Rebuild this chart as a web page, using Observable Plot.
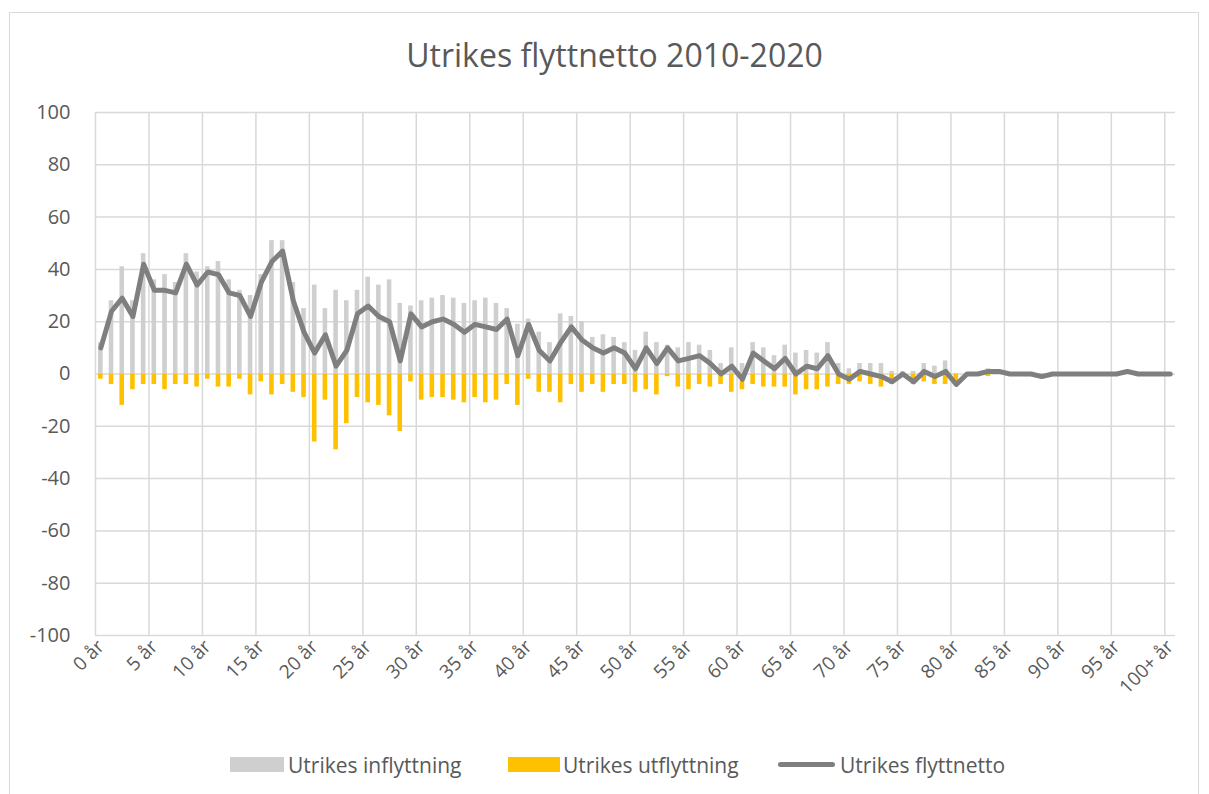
<!DOCTYPE html>
<html>
<head>
<meta charset="utf-8">
<script src="https://cdn.jsdelivr.net/npm/d3@7"></script>
<script src="https://cdn.jsdelivr.net/npm/@observablehq/plot@0.6"></script>
<style>
  html, body { margin: 0; padding: 0; background: #fff; overflow: hidden; }
  #wrap { position: relative; width: 1209px; height: 794px; font-family: "Open Sans", Lato, sans-serif; }
  #frame { position: absolute; left: 9px; top: 12px; width: 1190px; height: 820px; border: 1px solid #d9d9d9; box-sizing: border-box; }
  #title { position: relative; height: 90px; box-sizing: border-box; padding-top: 36px; text-align: center; font-size: 32px; color: #595959; line-height: 38px; padding-left: 20px; }
  #chart { position: relative; height: 645px; }
  #legend { position: relative; height: 59px; color: #595959; font-size: 21px; }
  .sw { position: absolute; }
  .lt { position: absolute; top: 17px; line-height: 26px; white-space: nowrap; }
</style>
</head>
<body>
<div id="wrap">
  <div id="frame"></div>
  <div id="title">Utrikes flyttnetto 2010-2020</div>
  <div id="chart"></div>
  <div id="legend">
    <div class="sw" style="left:230px; top:22px; width:54px; height:15px; background:#cfcfcf;"></div>
    <div class="lt" style="left:288px;">Utrikes inflyttning</div>
    <div class="sw" style="left:508px; top:22px; width:52px; height:15px; background:#ffc000;"></div>
    <div class="lt" style="left:563px;">Utrikes utflyttning</div>
    <div class="sw" style="left:778px; top:27px; width:57px; height:5px; border-radius:3px; background:#7f7f7f;"></div>
    <div class="lt" style="left:840px;">Utrikes flyttnetto</div>
  </div>
</div>
<script>
// Categories: age 0..100 (100 = "100+ år")
const ages = d3.range(0, 101);

const tickAges = [0, 5, 10, 15, 20, 25, 30, 35, 40, 45, 50, 55, 60, 65, 70, 75, 80, 85, 90, 95, 100];
const tickLabels = ["0 år", "5 år", "10 år", "15 år", "20 år", "25 år", "30 år", "35 år", "40 år", "45 år", "50 år",
  "55 år", "60 år", "65 år", "70 år", "75 år", "80 år", "85 år", "90 år", "95 år", "100+ år"];
const yTicks = [-100, -80, -60, -40, -20, 0, 20, 40, 60, 80, 100];

// Utrikes inflyttning (ages 0..100)
const inflyttning = [
  12, 28, 41, 28, 46, 36, 38, 35, 46, 39,
  41, 43, 36, 32, 30, 38, 51, 51, 35, 25,
  34, 25, 32, 28, 32, 37, 34, 36, 27, 26,
  28, 29, 30, 29, 27, 28, 29, 27, 25, 19,
  21, 16, 12, 23, 22, 20, 14, 15, 14, 12,
  9, 16, 12, 11, 10, 12, 11, 9, 4, 10,
  4, 12, 10, 7, 11, 8, 9, 8, 12, 4,
  2, 4, 4, 4, 1, 1, 1, 4, 3, 5,
  0, 0, 0, 2, 1, 0, 0, 0, 0, 0,
  0, 0, 0, 0, 0, 0, 1, 0, 0, 0,
  0
];

// Utrikes utflyttning (ages 0..100)
const utflyttning = [
  -2, -4, -12, -6, -4, -4, -6, -4, -4, -5,
  -2, -5, -5, -2, -8, -3, -8, -4, -7, -9,
  -26, -10, -29, -19, -9, -11, -12, -16, -22, -3,
  -10, -9, -9, -10, -11, -9, -11, -10, -4, -12,
  -2, -7, -7, -11, -4, -7, -4, -7, -4, -4,
  -7, -6, -8, -1, -5, -6, -4, -5, -4, -7,
  -6, -4, -5, -5, -5, -8, -6, -6, -5, -4,
  -4, -3, -4, -5, -4, -1, -4, -3, -4, -4,
  -4, 0, 0, -1, 0, 0, 0, 0, -1, 0,
  0, 0, 0, 0, 0, 0, 0, 0, 0, 0,
  0
];

// Utrikes flyttnetto (ages 0..100)
const flyttnetto = [
  10, 24, 29, 22, 42, 32, 32, 31, 42, 34,
  39, 38, 31, 30, 22, 35, 43, 47, 28, 16,
  8, 15, 3, 9, 23, 26, 22, 20, 5, 23,
  18, 20, 21, 19, 16, 19, 18, 17, 21, 7,
  19, 9, 5, 12, 18, 13, 10, 8, 10, 8,
  2, 10, 4, 10, 5, 6, 7, 4, 0, 3,
  -2, 8, 5, 2, 6, 0, 3, 2, 7, 0,
  -2, 1, 0, -1, -3, 0, -3, 1, -1, 1,
  -4, 0, 0, 1, 1, 0, 0, 0, -1, 0,
  0, 0, 0, 0, 0, 0, 1, 0, 0, 0,
  0
];

const data = ages.map((a, i) => ({age: a, inn: inflyttning[i], ut: utflyttning[i], netto: flyttnetto[i]}));

const W = 1209, ML = 95, MR = 34;
const step = (W - ML - MR) / ages.length;

const chart = Plot.plot({
  width: W,
  height: 645,
  marginTop: 22,
  marginBottom: 100,
  marginLeft: ML,
  marginRight: MR,
  style: {fontFamily: "'Open Sans', Lato, sans-serif", color: "#595959", background: "transparent", overflow: "visible"},
  x: {type: "band", domain: ages, paddingInner: 0.57, paddingOuter: 0.285, axis: null},
  y: {domain: [-100, 100], axis: null},
  marks: [
    Plot.ruleY(yTicks, {stroke: "#d9d9d9", strokeWidth: 1.5}),
    Plot.ruleX(tickAges, {x: d => d, y1: -100, y2: 100, dx: -step / 2, stroke: "#d9d9d9", strokeWidth: 1.5}),
    Plot.barY(data, {x: "age", y: "inn", fill: "#cfcfcf"}),
    Plot.barY(data, {x: "age", y: "ut", fill: "#ffc000"}),
    Plot.lineY(data, {x: "age", y: "netto", stroke: "#7f7f7f", strokeWidth: 5, strokeLinejoin: "round", strokeLinecap: "round"}),
    Plot.axisY(yTicks, {tickSize: 0, tickPadding: 25, fontSize: 20, fill: "#595959", label: null,
      tickFormat: d => `${d}`}),
    Plot.axisX(tickAges, {tickSize: 0, tickRotate: -45, tickPadding: 8, fontSize: 19, fill: "#595959", label: null,
      tickFormat: d => tickLabels[tickAges.indexOf(d)]})
  ]
});
document.getElementById("chart").appendChild(chart);
</script>
</body>
</html>
